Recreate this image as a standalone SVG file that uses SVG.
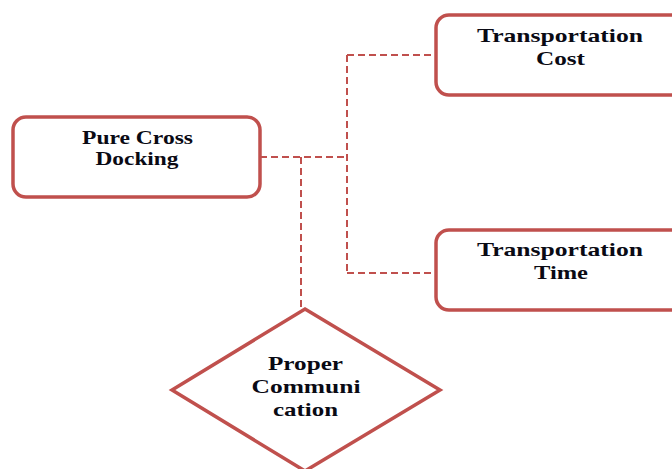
<svg xmlns="http://www.w3.org/2000/svg" width="672" height="469" viewBox="0 0 672 469">
<style>
.box{fill:#fff;stroke:#C0504D;stroke-width:3.5}
.conn{fill:none;stroke:#C0504D;stroke-width:2;stroke-dasharray:7,4}
text{font-family:"Liberation Serif","Times New Roman",serif;font-weight:bold;font-size:19px;fill:#0a0a14;text-anchor:middle}
</style>
<rect width="672" height="469" fill="#fff"/>
<g id="connectors">
<path class="conn" d="M260,157 H347"/>
<path class="conn" d="M347,55 V273"/>
<path class="conn" d="M347,55 H436"/>
<path class="conn" d="M347,273 H436"/>
<path class="conn" d="M301,157 V309"/>
</g>
<g id="pure-cross-docking">
<rect class="box" x="13" y="117" width="247" height="80" rx="13"/>
<text x="137.5" y="144" textLength="111" lengthAdjust="spacingAndGlyphs">Pure Cross</text>
<text x="137" y="165" textLength="83" lengthAdjust="spacingAndGlyphs">Docking</text>
</g>
<g id="transportation-cost">
<rect class="box" x="436" y="15" width="250" height="80" rx="13"/>
<text x="560" y="42" textLength="166" lengthAdjust="spacingAndGlyphs">Transportation</text>
<text x="560.5" y="65" textLength="49" lengthAdjust="spacingAndGlyphs">Cost</text>
</g>
<g id="transportation-time">
<rect class="box" x="436" y="230" width="250" height="80" rx="13"/>
<text x="560" y="256" textLength="166" lengthAdjust="spacingAndGlyphs">Transportation</text>
<text x="561" y="279" textLength="54" lengthAdjust="spacingAndGlyphs">Time</text>
</g>
<g id="proper-communication">
<polygon class="box" points="305,309 440,390 305,471 172,390"/>
<text x="305.5" y="370" textLength="75" lengthAdjust="spacingAndGlyphs">Proper</text>
<text x="306" y="393" textLength="109" lengthAdjust="spacingAndGlyphs">Communi</text>
<text x="305.5" y="416" textLength="65" lengthAdjust="spacingAndGlyphs">cation</text>
</g>
</svg>
